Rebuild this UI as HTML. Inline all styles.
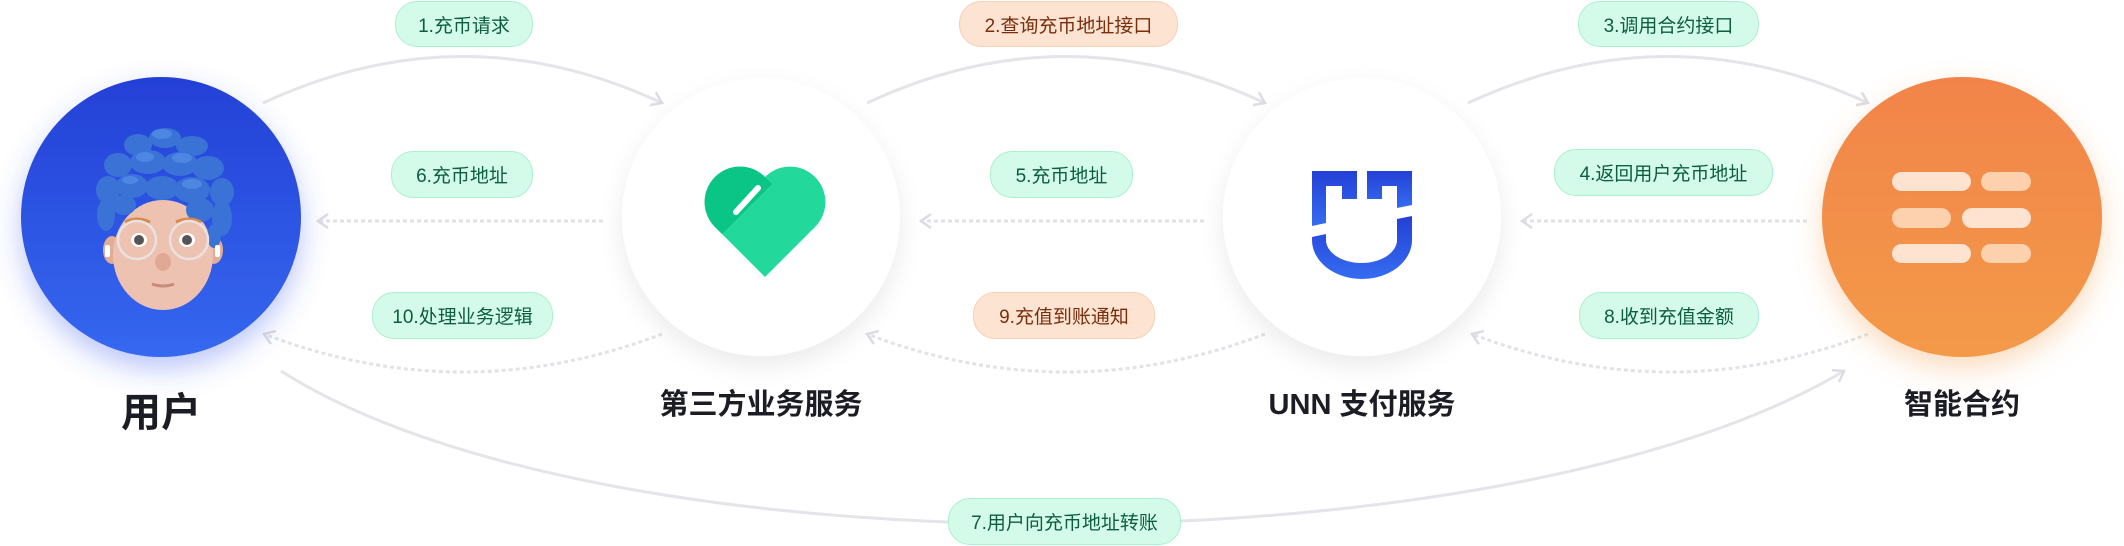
<!DOCTYPE html>
<html><head><meta charset="utf-8">
<style>
html,body{margin:0;padding:0;background:#fff;}
body{width:2124px;height:546px;position:relative;overflow:hidden;font-family:"Liberation Sans","Noto Sans CJK SC",sans-serif;}
.pill{position:absolute;display:flex;align-items:center;justify-content:center;border-radius:22px;font-size:19px;box-sizing:border-box;white-space:nowrap;}
.g{background:#d4fbe9;border:1.5px solid #a9f0cf;color:#0b5e3e;}
.o{background:#fde4d2;border:1.5px solid #f9cfb1;color:#7a2e0c;}
.lbl{position:absolute;transform:translateX(-50%);font-weight:bold;color:#1c1d24;white-space:nowrap;}
</style></head><body>
<svg width="2124" height="546" style="position:absolute;left:0;top:0">
<defs>
<marker id="ar" markerWidth="16" markerHeight="16" refX="12" refY="8" orient="auto" markerUnits="userSpaceOnUse">
<path d="M2,1 L12,8 L2,15" fill="none" stroke="#dcdce2" stroke-width="2.5"/>
</marker>
<linearGradient id="blue" x1="0" y1="0" x2="0" y2="1"><stop offset="0" stop-color="#2440d6"/><stop offset="1" stop-color="#3568f0"/></linearGradient>
<linearGradient id="org" x1="0" y1="0" x2="0" y2="1"><stop offset="0" stop-color="#f2844a"/><stop offset="1" stop-color="#f39a4a"/></linearGradient>
<linearGradient id="ub" x1="0" y1="0" x2="0" y2="1"><stop offset="0" stop-color="#2440d6"/><stop offset="1" stop-color="#356cf0"/></linearGradient>
<filter id="sh" x="-30%" y="-30%" width="160%" height="170%"><feDropShadow dx="0" dy="10" stdDeviation="12" flood-color="#000" flood-opacity="0.08"/></filter>
<filter id="shb" x="-30%" y="-30%" width="160%" height="170%"><feDropShadow dx="0" dy="12" stdDeviation="14" flood-color="#3a5cf0" flood-opacity="0.35"/></filter>
<filter id="sho" x="-30%" y="-30%" width="160%" height="170%"><feDropShadow dx="0" dy="12" stdDeviation="14" flood-color="#f39a4a" flood-opacity="0.35"/></filter>
<clipPath id="dk"><polygon points="600,356 780,176 700,100 600,100"/></clipPath>
<clipPath id="circ"><circle cx="161" cy="217" r="140"/></clipPath>
</defs>

<g fill="none" stroke="#e4e4e9" stroke-width="3">
<path d="M263,103 Q463,10 662,103" marker-end="url(#ar)"/>
<path d="M867,103 Q1066,10 1265,103" marker-end="url(#ar)"/>
<path d="M1468,103 Q1668,10 1868,103" marker-end="url(#ar)"/>
<path d="M281,371 C600,575 1500,575 1844,371" marker-end="url(#ar)"/>
</g>
<g fill="none" stroke="#e2e2e7" stroke-width="3" stroke-dasharray="4 3">
<path d="M603,221 L318,221" marker-end="url(#ar)"/>
<path d="M1204,221 L921,221" marker-end="url(#ar)"/>
<path d="M1807,221 L1522,221" marker-end="url(#ar)"/>
<path d="M662,334 Q463,410 264,334" marker-end="url(#ar)"/>
<path d="M1265,334 Q1066,410 867,334" marker-end="url(#ar)"/>
<path d="M1868,334 Q1670,410 1472,334" marker-end="url(#ar)"/>
</g>

<circle cx="161" cy="217" r="140" fill="url(#blue)" filter="url(#shb)"/>
<circle cx="761" cy="217" r="139" fill="#fff" filter="url(#sh)"/>
<circle cx="1362" cy="217" r="139" fill="#fff" filter="url(#sh)"/>
<circle cx="1962" cy="217" r="140" fill="url(#org)" filter="url(#sho)"/>

<g clip-path="url(#circ)">
<ellipse cx="112" cy="250" rx="9" ry="14" fill="#e2ad98"/>
<ellipse cx="214" cy="250" rx="9" ry="14" fill="#e2ad98"/>
<ellipse cx="163" cy="255" rx="50" ry="55" fill="#eec2b0"/>
<g fill="#3a72d6">
<ellipse cx="138" cy="145" rx="14" ry="11"/><ellipse cx="165" cy="138" rx="16" ry="10"/><ellipse cx="192" cy="146" rx="16" ry="10"/>
<ellipse cx="118" cy="165" rx="14" ry="12"/><ellipse cx="148" cy="162" rx="18" ry="12"/><ellipse cx="180" cy="164" rx="18" ry="12"/><ellipse cx="208" cy="168" rx="16" ry="12"/>
<ellipse cx="108" cy="190" rx="12" ry="14"/><ellipse cx="132" cy="186" rx="16" ry="12"/><ellipse cx="162" cy="188" rx="17" ry="12"/><ellipse cx="192" cy="190" rx="18" ry="13"/><ellipse cx="222" cy="192" rx="12" ry="14"/>
<ellipse cx="106" cy="215" rx="9" ry="16"/><ellipse cx="124" cy="205" rx="12" ry="10"/><ellipse cx="200" cy="210" rx="14" ry="12"/><ellipse cx="222" cy="218" rx="10" ry="18"/><ellipse cx="214" cy="236" rx="7" ry="12"/>
</g>
<g fill="#5a95ec" opacity=".6">
<ellipse cx="162" cy="134" rx="10" ry="5"/><ellipse cx="182" cy="158" rx="10" ry="5"/><ellipse cx="145" cy="157" rx="9" ry="5"/><ellipse cx="192" cy="184" rx="10" ry="5"/><ellipse cx="130" cy="180" rx="8" ry="4"/>
</g>
<path d="M125,222 Q137,216 150,222" stroke="#d98a4a" stroke-width="3" fill="none"/>
<path d="M176,222 Q189,216 201,222" stroke="#d98a4a" stroke-width="3" fill="none"/>
<ellipse cx="139" cy="240" rx="8" ry="7" fill="#fff"/><circle cx="139" cy="240" r="5" fill="#555"/>
<ellipse cx="187" cy="240" rx="8" ry="7" fill="#fff"/><circle cx="187" cy="240" r="5" fill="#555"/>
<circle cx="137" cy="240" r="19" fill="none" stroke="#e8e2e2" stroke-width="2.5"/>
<circle cx="189" cy="240" r="19" fill="none" stroke="#e8e2e2" stroke-width="2.5"/>
<ellipse cx="163" cy="262" rx="8" ry="9" fill="#e0a996"/>
<path d="M152,284 Q163,288 174,284" stroke="#c98a7a" stroke-width="3" fill="none"/>
<rect x="105" y="245" width="5" height="12" rx="2" fill="#fff"/>
<rect x="215" y="245" width="5" height="12" rx="2" fill="#fff"/>
</g>

<g>
<circle cx="740" cy="202" r="35.4" fill="#22d99b"/>
<circle cx="790" cy="202" r="35.4" fill="#22d99b"/>
<polygon points="765,277 715,227 765,177 815,227" fill="#22d99b"/>
<g clip-path="url(#dk)">
<circle cx="740" cy="202" r="35.4" fill="#0bc586"/>
<polygon points="765,277 715,227 765,177 815,227" fill="#0bc586"/>
</g>
<line x1="736" y1="212" x2="758" y2="188" stroke="#fff" stroke-width="6" stroke-linecap="round"/>
</g>

<g fill="url(#ub)">
<path d="M1312,171 L1357,171 L1357,199 L1342,199 L1342,186 L1326,186 L1326,223 L1312,226 Z"/>
<path d="M1367,171 L1412,171 L1412,205 L1397,208 L1397,186 L1382,186 L1382,199 L1367,199 Z"/>
<path d="M1312,237 L1326,234 L1326,240 A35.5,23 0 0 0 1397,240 L1397,219 L1412,216 L1412,240 A50,39 0 0 1 1312,240 Z"/>
</g>

<g>
<rect x="1892" y="172" width="79" height="19" rx="9.5" fill="#fde3d0"/>
<rect x="1981" y="172" width="50" height="19" rx="9.5" fill="#fdd0ae"/>
<rect x="1892" y="208" width="59" height="20" rx="10" fill="#fdd0ae"/>
<rect x="1962" y="208" width="69" height="20" rx="10" fill="#fde3d0"/>
<rect x="1892" y="244" width="79" height="19" rx="9.5" fill="#fde3d0"/>
<rect x="1981" y="244" width="50" height="19" rx="9.5" fill="#fdd0ae"/>
</g>
</svg>

<div class="pill g" style="left:395px;top:1px;width:138px;height:46px;">1.充币请求</div>
<div class="pill o" style="left:959px;top:1px;width:219px;height:46px;">2.查询充币地址接口</div>
<div class="pill g" style="left:1578px;top:1px;width:181px;height:46px;">3.调用合约接口</div>
<div class="pill g" style="left:391px;top:151px;width:142px;height:47px;">6.充币地址</div>
<div class="pill g" style="left:990px;top:151px;width:143px;height:47px;">5.充币地址</div>
<div class="pill g" style="left:1554px;top:149px;width:219px;height:47px;">4.返回用户充币地址</div>
<div class="pill g" style="left:372px;top:292px;width:181px;height:47px;">10.处理业务逻辑</div>
<div class="pill o" style="left:973px;top:292px;width:182px;height:47px;">9.充值到账通知</div>
<div class="pill g" style="left:1579px;top:292px;width:180px;height:47px;">8.收到充值金额</div>
<div class="pill g" style="left:948px;top:498px;width:233px;height:47px;">7.用户向充币地址转账</div>

<div class="lbl" style="left:161px;top:380px;font-size:40px;">用户</div>
<div class="lbl" style="left:761px;top:381px;font-size:29px;">第三方业务服务</div>
<div class="lbl" style="left:1362px;top:381px;font-size:29px;">UNN 支付服务</div>
<div class="lbl" style="left:1962px;top:381px;font-size:29px;">智能合约</div>
</body></html>
